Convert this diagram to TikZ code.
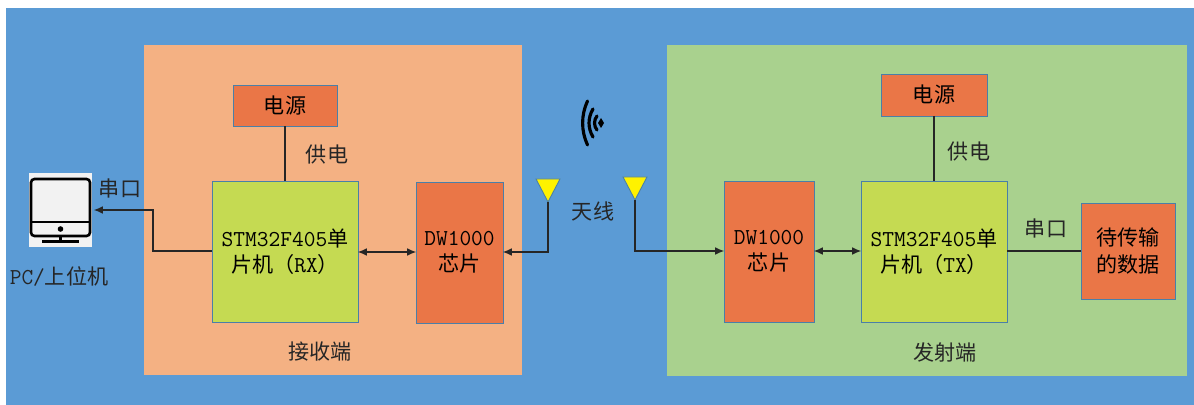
\documentclass[tikz,border=0pt]{standalone}
\usepackage{fontspec}
\setmainfont{Liberation Serif}
\setmonofont[Scale=1.08]{Latin Modern Mono}
\newfontfamily\cjk{Noto Sans CJK SC}
\usetikzlibrary{arrows.meta}
\definecolor{bgblue}{HTML}{5B9BD5}
\definecolor{rxpanel}{HTML}{F4B183}
\definecolor{txpanel}{HTML}{A9D18E}
\definecolor{chipred}{HTML}{EA7647}
\definecolor{mculime}{HTML}{C5DA52}
\definecolor{edgeblue}{HTML}{4A7FA8}
\definecolor{wiredark}{HTML}{262626}
\tikzset{
  panel/.style={draw=none, inner sep=0pt, outer sep=0pt},
  chip/.style={draw=edgeblue, line width=0.5pt, fill=chipred, inner sep=0pt, outer sep=0pt, align=center, font=\cjk\fontsize{12}{15}\selectfont},
  mcu/.style={chip, fill=mculime},
  lbl/.style={inner sep=0pt, outer sep=0pt, align=center, text=black!85, font=\cjk\fontsize{12}{15}\selectfont},
  wire/.style={draw=wiredark, line width=0.6pt},
  powerwire/.style={draw=wiredark, line width=0.95pt},
  arrowwire/.style={wire, -{Latex[length=5pt,width=4.4pt]}},
  bothwire/.style={wire, {Latex[length=5pt,width=4.4pt]}-{Latex[length=5pt,width=4.4pt]}},
  ant/.style={draw=edgeblue, line width=0.5pt, fill=yellow},
  wave/.style={line width=1.8pt, line cap=round}
}
\begin{document}
\begin{tikzpicture}[x=0.02cm, y=-0.02cm]
  \useasboundingbox (0,0) rectangle (1194,405);
  % Sfondo
  \fill[white] (0,0) rectangle (1194,405);
  \fill[bgblue] (6,8) rectangle (1194,405);
  \node (RXP) at (333,210) [panel, fill=rxpanel, minimum width=7.56cm, minimum height=6.6cm] {};
  \node (TXP) at (927,210.5) [panel, fill=txpanel, minimum width=10.4cm, minimum height=6.62cm] {};

  % Lato ricevitore
  \node (PWRL) at (285,105.5) [chip, minimum width=2.08cm, minimum height=0.82cm] {电源};
  \node (RX) at (285,251.5) [mcu, minimum width=2.92cm, minimum height=2.82cm] {{\ttfamily STM32F405}单\\片机（{\ttfamily RX}）};
  \node (DWL) at (459.5,252.5) [chip, minimum width=1.74cm, minimum height=2.82cm] {{\ttfamily DW1000}\\芯片};

  % Lato trasmettitore
  \node (PWRR) at (934,95) [chip, minimum width=2.12cm, minimum height=0.84cm] {电源};
  \node (DWR) at (769,251.5) [chip, minimum width=1.8cm, minimum height=2.82cm] {{\ttfamily DW1000}\\芯片};
  \node (TX) at (934,251.5) [mcu, minimum width=2.92cm, minimum height=2.82cm] {{\ttfamily STM32F405}单\\片机（{\ttfamily TX}）};
  \node (DATA) at (1128,251) [chip, minimum width=1.88cm, minimum height=1.92cm] {待传输\\的数据};

  % Monitor
  \node (PC) at (60.5,210) [panel, fill=white!95!black, minimum width=1.26cm, minimum height=1.48cm] {};
  \draw[line width=1.5pt, rounded corners=2pt, fill=white!95!black] (31,179) rectangle (90,236);
  \draw[line width=1.5pt] (31,222) -- (90,222);
  \fill (60.5,229) circle (2.8);
  \draw[line width=1.5pt] (60.5,236) -- (60.5,241) (42,241.5) -- (79,241.5);

  % Antenne
  \coordinate (AL) at (548,202);
  \coordinate (AR) at (635,200);
  \coordinate (ELL) at (548,252);
  \coordinate (ELR) at (635,251);
  \coordinate (EPC1) at (153,210);
  \coordinate (EPC2) at (153,251);
  \draw[ant] (536,179) -- (560,179) -- (AL) -- cycle;
  \draw[ant] (623,177) -- (647,177) -- (AR) -- cycle;

  % Onde
  \draw[wave] (587.5,101) .. controls (581,115) and (581,131) .. (587.5,145);
  \draw[wave] (593,109) .. controls (587.7,118) and (587.7,128) .. (593,137);
  \draw[wave] (597,116) .. controls (593.7,120) and (593.7,126) .. (597,130);
  \fill (598,123) -- (601,118) -- (604,123) -- (601,128) -- cycle;

  % Collegamenti
  \draw[powerwire] (PWRL) -- (RX);
  \draw[powerwire] (PWRR) -- (TX);
  \draw[wire] (TX.east |- DATA) -- (DATA);
  \draw[bothwire] (RX.east |- ELL) -- (DWL.west |- ELL);
  \draw[bothwire] (DWR.east |- ELR) -- (TX.west |- ELR);
  \draw[arrowwire] (AL) -- (ELL) -- (DWL.east |- ELL);
  \draw[arrowwire] (AR) -- (ELR) -- (DWR.west |- ELR);
  \draw[arrowwire] (RX.west |- EPC2) -- (EPC2) -- (EPC1) -- (94,210);

  % Etichette
  \node (LP) at (327,155) [lbl] {供电};
  \node (RP) at (969,152) [lbl] {供电};
  \node (LS) at (120,188) [lbl] {串口};
  \node (RS) at (1046,228) [lbl] {串口};
  \node (PCL) at (59,277) [lbl] {{\ttfamily PC/}上位机};
  \node (ANT) at (593,211) [lbl] {天线};
  \node (RXL) at (320,352) [lbl] {接收端};
  \node (TXL) at (945,352) [lbl] {发射端};
\end{tikzpicture}
\end{document}
